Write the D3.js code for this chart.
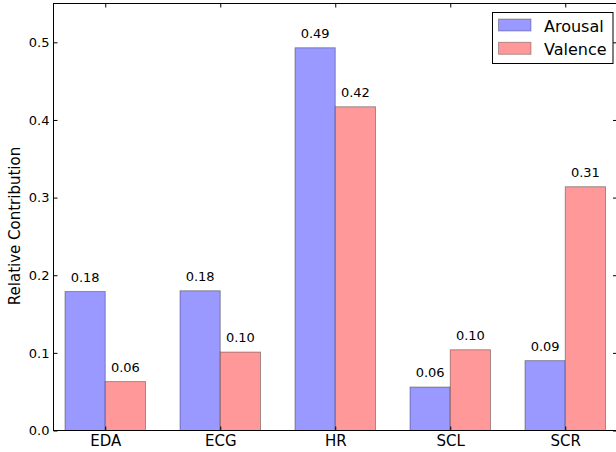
<!DOCTYPE html>
<html>
<head>
<meta charset="utf-8">
<script src="https://cdn.jsdelivr.net/npm/d3@7"></script>
<style>
  html, body { margin: 0; padding: 0; background: #fff; }
  svg { display: block; font-family: "DejaVu Sans", sans-serif; }
</style>
</head>
<body>
<svg id="chart" width="616" height="452"></svg>
<script>
const categories = ["EDA", "ECG", "HR", "SCL", "SCR"];
const arousal = [0.179, 0.180, 0.493, 0.056, 0.090];
const valence = [0.063, 0.101, 0.417, 0.104, 0.314];
const seriesNames = ["Arousal", "Valence"];
const yTicks = [0.0, 0.1, 0.2, 0.3, 0.4, 0.5];

const colors = { Arousal: "#9999ff", Valence: "#ff9999" };
const barW = 0.35;

const svg = d3.select("#chart");
const pLeft = 53.5, pRight = 53.5 + 4.9 * 115, pTop = 3.5, pBottom = 430.5;

const x = d3.scaleLinear().domain([-0.1, 4.8]).range([pLeft, pRight]);
const y = d3.scaleLinear().domain([0, 0.55]).range([pBottom, pTop]);

const series = [
  { name: "Arousal", values: arousal, offset: 0 },
  { name: "Valence", values: valence, offset: barW }
];

// bars
series.forEach(s => {
  svg.append("g").selectAll("rect")
    .data(s.values)
    .join("rect")
    .attr("x", (d, i) => x(i + s.offset))
    .attr("width", (d, i) => x(i + s.offset + barW) - x(i + s.offset))
    .attr("y", d => y(d))
    .attr("height", d => y(0) - y(d))
    .attr("fill", colors[s.name])
    .attr("stroke", "rgba(0,0,0,0.35)")
    .attr("stroke-width", 1);
});

// value labels
series.forEach(s => {
  svg.append("g").selectAll("text")
    .data(s.values)
    .join("text")
    .attr("x", (d, i) => x(i + s.offset + barW / 2))
    .attr("y", d => y(d) - 10)
    .attr("text-anchor", "middle")
    .attr("font-size", 13)
    .attr("fill", "#000")
    .text(d => d.toFixed(2));
});

// axes
const yAxisL = d3.axisLeft(y).tickValues(yTicks).tickFormat(d3.format(".1f")).tickSize(-4).tickPadding(4);
const yAxisR = d3.axisRight(y).tickValues(yTicks).tickFormat("").tickSize(-4);
const xTickPos = categories.map((c, i) => i + barW);
const xAxisB = d3.axisBottom(x).tickValues(xTickPos).tickFormat((d, i) => categories[i]).tickSize(-4).tickPadding(5);
const xAxisT = d3.axisTop(x).tickValues(xTickPos).tickFormat("").tickSize(-4);

function styleAxis(g, fs) {
  g.select(".domain").remove();
  g.selectAll("line").attr("stroke", "#000");
  g.selectAll("text").attr("font-family", "DejaVu Sans").attr("font-size", fs).attr("fill", "#000");
}
svg.append("g").attr("transform", `translate(${pLeft},0)`).call(yAxisL).call(g => styleAxis(g, 13));
svg.append("g").attr("transform", `translate(${pRight},0)`).call(yAxisR).call(g => styleAxis(g, 13));
svg.append("g").attr("transform", `translate(0,${pBottom})`).call(xAxisB).call(g => styleAxis(g, 15));
svg.append("g").attr("transform", `translate(0,${pTop})`).call(xAxisT).call(g => styleAxis(g, 13));

// frame
svg.append("rect")
  .attr("x", pLeft).attr("y", pTop)
  .attr("width", pRight - pLeft).attr("height", pBottom - pTop)
  .attr("fill", "none").attr("stroke", "#000").attr("stroke-width", 1);

// y label
svg.append("text")
  .attr("transform", `translate(19.5,226) rotate(-90)`)
  .attr("text-anchor", "middle")
  .attr("font-size", 15)
  .attr("fill", "#000")
  .text("Relative Contribution");

// legend
const lg = svg.append("g");
lg.append("rect")
  .attr("x", 492.5).attr("y", 12.5).attr("width", 120.5).attr("height", 51)
  .attr("fill", "#fff").attr("stroke", "#000").attr("stroke-width", 1);
seriesNames.forEach((n, i) => {
  const cy = 25 + i * 23.3;
  lg.append("rect")
    .attr("x", 498.5).attr("y", cy - 6).attr("width", 32.5).attr("height", 12)
    .attr("fill", colors[n]).attr("stroke", "rgba(0,0,0,0.3)");
  lg.append("text")
    .attr("x", 544).attr("y", cy + 6.5)
    .attr("font-size", 16)
    .attr("fill", "#000")
    .text(n);
});
</script>
</body>
</html>
